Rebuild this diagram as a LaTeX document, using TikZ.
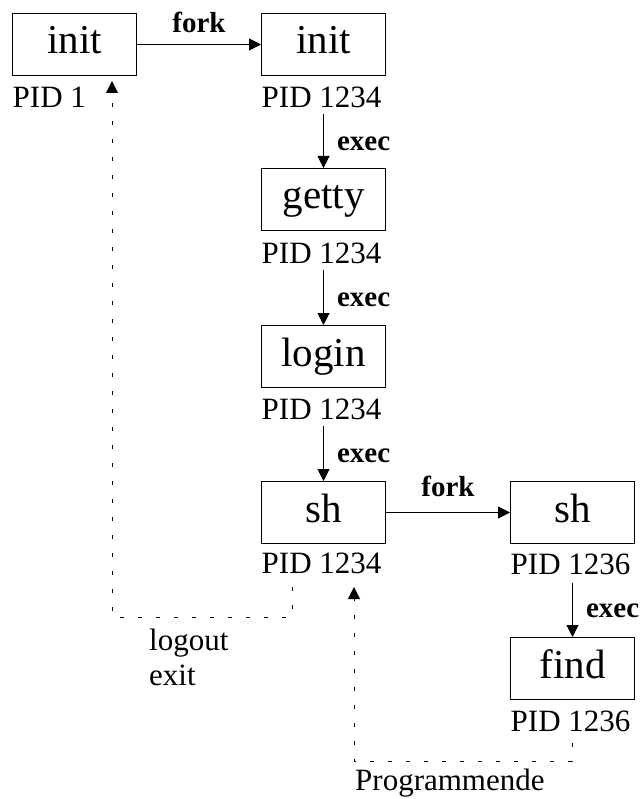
\documentclass[tikz,border=0pt]{standalone}
\usepackage{fontspec}
\setmainfont{Liberation Serif}
\usetikzlibrary{arrows.meta,calc}
\begin{document}
\begin{tikzpicture}[x=1pt,y=-1pt,
  proc/.style={draw,line width=1pt,minimum width=124pt,minimum height=62pt,
    inner sep=0pt,anchor=north west,font=\fontsize{41}{41}\selectfont,
    text height=29pt,text depth=10pt},
  pid/.style={inner sep=0pt,anchor=base west,font=\fontsize{31}{31}\selectfont},
  note/.style={inner sep=0pt,anchor=base west,font=\fontsize{31}{31}\selectfont},
  act/.style={inner sep=0pt,font=\fontsize{29}{29}\selectfont\bfseries},
  flow/.style={line width=1pt,-{Triangle[length=12pt,width=12pt]}},
  ret/.style={line width=1pt,dash pattern=on 4pt off 14pt,-{Triangle[length=12pt,width=12pt]}}]

% canvas
\useasboundingbox (0,0) rectangle (644,799);

% processes
\node[proc] (init1) at (12,13)  {init};
\node[proc] (init2) at (261,13) {init};
\node[proc] (getty) at (261,168) {getty};
\node[proc] (login) at (261,325) {login};
\node[proc] (sh)    at (261,481) {sh};
\node[proc] (sh2)   at (510,481) {sh};
\node[proc] (find)  at (510,637) {find};

% process ids
\node[pid] (p1) at ($(init1.south west)+(0.5,32)$) {PID 1};
\node[pid] (p2) at ($(init2.south west)+(0.5,32)$) {PID 1234};
\node[pid] (p3) at ($(getty.south west)+(0.5,32)$) {PID 1234};
\node[pid] (p4) at ($(login.south west)+(0.5,31)$) {PID 1234};
\node[pid] (p5) at ($(sh.south west)+(0.5,29)$) {PID 1234};
\node[pid] (p6) at ($(sh2.south west)+(0.5,30)$) {PID 1236};
\node[pid] (p7) at ($(find.south west)+(0.5,31)$) {PID 1236};

% fork
\draw[flow] (init1.east) -- node[act,midway,anchor=base,yshift=12pt] (f1) {fork} (init2.west);
\draw[flow] (sh.east) -- node[act,midway,anchor=base,yshift=16pt] (f2) {fork} (sh2.west);

% exec
\draw[flow] ($(p2.south -| init2.south)+(0,6)$) --
  node[act,midway,anchor=base west,xshift=13pt,yshift=-9pt] (e1) {exec} (getty.north);
\draw[flow] ($(p3.south -| getty.south)+(0,6)$) --
  node[act,midway,anchor=base west,xshift=13pt,yshift=-9pt] (e2) {exec} (login.north);
\draw[flow] ($(p4.south -| login.south)+(0,6)$) --
  node[act,midway,anchor=base west,xshift=13pt,yshift=-9pt] (e3) {exec} (sh.north);
\draw[flow] ($(p6.south -| sh2.south)+(0,8)$) --
  node[act,midway,anchor=base west,xshift=13pt,yshift=-8pt] (e4) {exec} (find.north);

% return paths
\coordinate (lo1) at (292,587);
\coordinate (lo2) at (112,617);
\draw[ret] (lo1) |- (lo2) -- ($(lo2 |- init1.south)+(0,5)$);
\node[note] (logout) at (149,650) {logout};
\node[note] (exit)   at (149,685) {exit};

\coordinate (pe1) at (572,743);
\coordinate (pe2) at (354,761);
\coordinate (pe3) at (354,587);
\draw[ret] (pe1) |- (pe2) -- (pe3);
\node[note] (ende) at (355,790) {Programmende};

\end{tikzpicture}
\end{document}
